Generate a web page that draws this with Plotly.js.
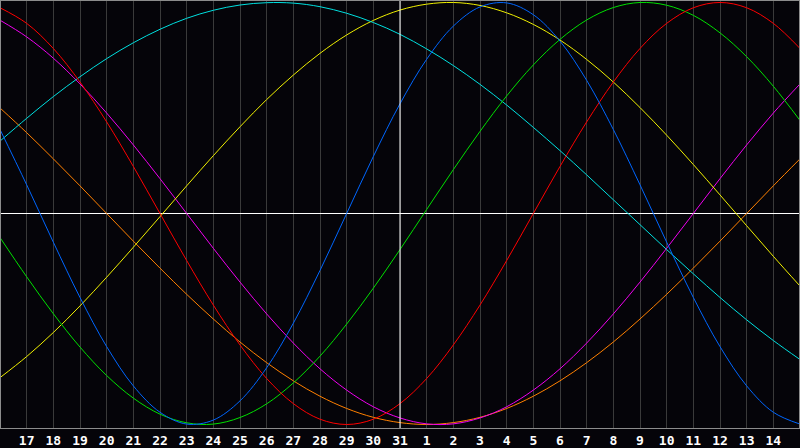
<!DOCTYPE html>
<html>
<head>
<meta charset="utf-8">
<script src="https://cdn.plot.ly/plotly-3.0.1.min.js"></script>
<style>
  html, body { margin: 0; padding: 0; background: #050409; }
  #chart { width: 800px; height: 448px; }
</style>
</head>
<body>
<div id="chart"></div>
<script>
// Day labels, one per column (16 .. 31, 1 .. 15)
var days = [16, 17, 18, 19, 20, 21, 22, 23, 24, 25, 26, 27, 28, 29, 30, 31,
            1, 2, 3, 4, 5, 6, 7, 8, 9, 10, 11, 12, 13, 14, 15];
var todayIndex = 15;

// Cycle values, one per day
var physical = [0.398, 0.136, -0.136, -0.398, -0.631, -0.817, -0.942, -0.998, -0.979, -0.888,
                -0.731, -0.520, -0.270, 0, 0.270, 0.520, 0.731, 0.888, 0.979, 0.998,
                0.942, 0.817, 0.631, 0.398, 0.136, -0.136, -0.398, -0.631, -0.817, -0.942, -0.998];
var emotional = [0.975, 0.901, 0.782, 0.623, 0.434, 0.223, 0, -0.223, -0.434, -0.623,
                 -0.782, -0.901, -0.975, -1, -0.975, -0.901, -0.782, -0.623, -0.434, -0.223,
                 0, 0.223, 0.434, 0.623, 0.782, 0.901, 0.975, 1, 0.975, 0.901, 0.782];
var intellectual = [-0.114, -0.300, -0.475, -0.633, -0.768, -0.875, -0.951, -0.992, -0.998, -0.967,
                    -0.902, -0.803, -0.676, -0.524, -0.354, -0.171, 0.019, 0.208, 0.389, 0.557,
                    0.704, 0.825, 0.917, 0.976, 1.000, 0.987, 0.939, 0.856, 0.743, 0.603, 0.441];
var spiritual = [0.343, 0.451, 0.554, 0.648, 0.734, 0.809, 0.873, 0.925, 0.963, 0.988,
                 0.999, 0.997, 0.980, 0.949, 0.905, 0.849, 0.780, 0.701, 0.612, 0.514,
                 0.408, 0.298, 0.183, 0.065, -0.053, -0.171, -0.286, -0.398, -0.504, -0.602, -0.692];
var aesthetic = [-0.778, -0.678, -0.564, -0.438, -0.302, -0.160, -0.015, 0.131, 0.274, 0.411,
                 0.540, 0.656, 0.759, 0.846, 0.915, 0.964, 0.992, 1.000, 0.986, 0.951,
                 0.896, 0.822, 0.730, 0.623, 0.502, 0.371, 0.232, 0.088, -0.058, -0.203, -0.344];
var intuitive = [0.916, 0.837, 0.736, 0.614, 0.476, 0.325, 0.165, 0, -0.165, -0.325,
                 -0.476, -0.614, -0.736, -0.837, -0.916, -0.969, -0.997, -0.997, -0.969, -0.916,
                 -0.837, -0.736, -0.614, -0.476, -0.325, -0.165, 0, 0.165, 0.325, 0.476, 0.614];
var awareness = [0.5, 0.383, 0.259, 0.131, 0, -0.131, -0.259, -0.383, -0.5, -0.609,
                 -0.707, -0.793, -0.866, -0.924, -0.966, -0.991, -1, -0.991, -0.966, -0.924,
                 -0.866, -0.793, -0.707, -0.609, -0.5, -0.383, -0.259, -0.131, 0, 0.131, 0.259];

var idx = days.map(function (d, i) { return i; });

function curve(vals, color) {
    return {
        x: idx,
        y: vals,
        type: 'scatter',
        mode: 'lines',
        line: { color: color, width: 1, shape: 'spline', smoothing: 1 },
        hoverinfo: 'skip'
    };
}

var data = [
    curve(awareness, '#ff8000'),
    curve(intuitive, '#f000f0'),
    curve(aesthetic, '#f0f000'),
    curve(spiritual, '#00e0e0'),
    curve(intellectual, '#00e000'),
    curve(emotional, '#ff0000'),
    curve(physical, '#0066ff')
];

// tick labels for every inner column
var tickvals = idx.slice(1, idx.length - 1);
var ticktext = tickvals.map(function (i) { return String(days[i]); });

var layout = {
    width: 800,
    height: 448,
    margin: { l: 1, r: 1, t: 1, b: 20, pad: 0 },
    paper_bgcolor: '#050409',
    plot_bgcolor: '#050409',
    showlegend: false,
    xaxis: {
        range: [0.0375, 29.9625],
        tickvals: tickvals,
        ticktext: ticktext,
        ticks: '',
        showgrid: true,
        gridcolor: '#3a3a3a',
        gridwidth: 1,
        zeroline: false,
        showline: true,
        mirror: true,
        linecolor: '#8c8c8c',
        linewidth: 1,
        tickfont: { family: 'DejaVu Sans Mono', size: 13, color: '#ffffff', weight: 'bold' },
        fixedrange: true
    },
    yaxis: {
        range: [-1.0166, 1.007],
        showticklabels: false,
        ticks: '',
        showgrid: false,
        zeroline: true,
        zerolinecolor: '#ffffff',
        zerolinewidth: 1,
        showline: true,
        mirror: true,
        linecolor: '#8c8c8c',
        linewidth: 1,
        fixedrange: true
    },
    shapes: [{
        type: 'line',
        xref: 'x', yref: 'paper',
        x0: todayIndex, x1: todayIndex, y0: 0, y1: 1,
        line: { color: '#ffffff', width: 1 },
        layer: 'above'
    }]
};

Plotly.newPlot('chart', data, layout, { staticPlot: true, displayModeBar: false });
</script>
</body>
</html>
